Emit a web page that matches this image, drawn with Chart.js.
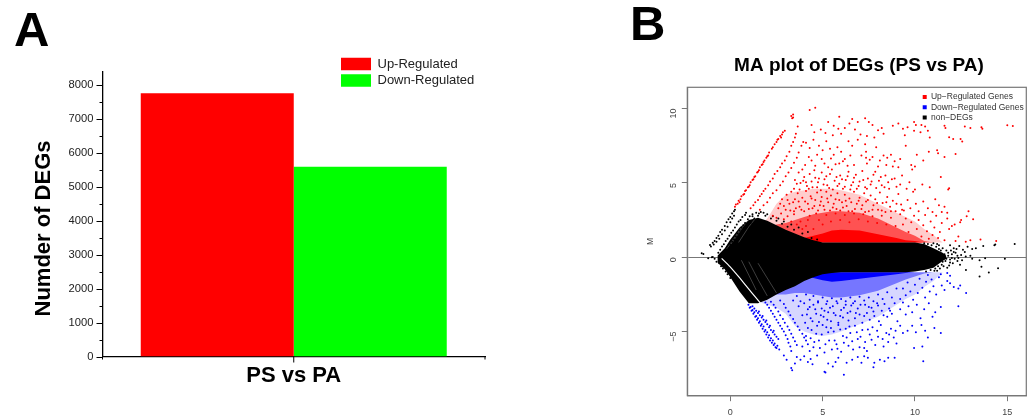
<!DOCTYPE html>
<html>
<head>
<meta charset="utf-8">
<script src="https://cdn.jsdelivr.net/npm/chart.js@4"></script>
<style>
  html, body { margin: 0; padding: 0; background: #fff; overflow: hidden; }
  body { width: 1034px; height: 419px; position: relative; font-family: "Liberation Sans", Arial, sans-serif; }
  canvas { position: absolute; top: 0; filter: blur(0.4px); }
  #barChart { left: 0; }
  #maChart { left: 620px; }
  .panel { position: absolute; font-weight: bold; font-size: 49px; line-height: 1; color: #000; }
</style>
</head>
<body>
<div class="panel" style="left:14px;top:4.5px">A</div>
<div class="panel" style="left:630px;top:-1.5px">B</div>
<canvas id="barChart" width="520" height="419"></canvas>
<canvas id="maChart" width="414" height="419"></canvas>
<script>
// panel A
const comparisons = ['PS vs PA'];
const upCounts = [7760];
const downCounts = [5590];
const countTicks = [0, 500, 1000, 1500, 2000, 2500, 3000, 3500, 4000, 4500, 5000, 5500, 6000, 6500, 7000, 7500, 8000];

// panel B, dense parts of the cloud read as upper/lower limits per A value
const bandA =        [-0.7, -0.3,  0,    0.5,  1,    1.5,  2,    2.5,  3,    3.5,  4,    4.5,  5,    5.5,  6,    7,    8,    9,    9.5,  10,   10.5, 11,   11.5, 11.7];
const blackTop =     [0.1,  0.6,   1.2,  2,    2.5,  2.65, 2.45, 2.15, 1.85, 1.6,  1.35, 1.15, 1,    1,    1,    1,    1,    1,    1,    1,    0.9,  0.6,  0.3,  0.1];
const blackBottom =  [-0.35,-0.8,  -1.35,-2.3, -3.1, -3.1, -2.85,-2.5, -2.2, -1.95,-1.6, -1.35,-1.15,-1.05,-1,   -1,   -1,   -1,   -1,   -0.96,-0.85,-0.7, -0.25,-0.1];
const redSolidTop =  [1,    1,     1,    1,    1,    1,    1,    1,    1,    1,    1.3,  1.45, 1.6,  1.8,  1.85, 1.8,  1.55, 1.3,  1.15, 1.1,  1,    1,    1,    1];
const redMidTop =    [1,    1,     1,    1,    1,    1,    2,    2.2,  2.3,  2.5,  2.7,  2.9,  3,    3.1,  3.1,  3,    2.6,  2,    1.7,  1.45, 1.1,  1,    1,    1];
const redLightTop =  [1,    1,     1,    1,    1,    2,    2.6,  3.6,  4.2,  4.4,  4.5,  4.6,  4.6,  4.6,  4.5,  4.2,  3.6,  3,    2.7,  2.4,  1.9,  1.5,  1,    1];
const blueSolidTop = [-1,   -1,    -1,   -1,   -1,   -1,   -1,   -1,   -1,   -1,   -1.2, -1.4, -1.55,-1.65,-1.6, -1.45,-1.3, -1.15,-1.05,-1,   -1,   -1,   -1,   -1];
const blueMidTop =   [-1,   -1,    -1,   -1,   -1,   -1,   -2,   -2.5, -2.5, -2.4, -2.4, -2.5, -2.6, -2.7, -2.7, -2.55,-2.25,-1.75,-1.5, -1.3, -1.1, -1,   -1,   -1];
const blueLightTop = [-1,   -1,    -1,   -1,   -1,   -3,   -3.2, -3.4, -3.8, -4.6, -5,   -5.2, -5.3, -5.2, -5,   -4.5, -4,   -3.2, -2.8, -2.5, -2,   -1.6, -1,   -1];
const gapA = [-0.47, -0.02, 0.52, 0.97, 1.34, 1.79];
const gapM = [-0.07, -0.63, -1.41, -2.09, -2.65, -3.32];
// thin white streaks inside the black wedge
const streaks = [
  { a: [0.05, 0.6, 1.2], m: [0.9, 1.9, 2.9] },
  { a: [0.45, 1, 1.55], m: [1, 2.05, 2.9] },
  { a: [-0.2, 0.3, 0.8], m: [0.55, 1.45, 2.4] },
  { a: [1, 1.5, 2], m: [-0.3, -1.5, -2.6] },
  { a: [1.5, 2, 2.5], m: [-0.4, -1.4, -2.4] },
  { a: [0.6, 1, 1.4], m: [-0.2, -1.2, -2.2] }
];

// A,M pairs
const upGenes = [
  // edge streaks
  .25,3.4, .3,3.55, .4,3.6, .45,3.8, .55,3.9, .6,4.1, .7,4.2, .8,4.45, .85,4.5, .95,4.7, 1.05,4.85, 1.1,5.05, 1.2,5.2, 1.3,5.4, 1.35,5.45, 1.45,5.7,
  1.55,5.85, 1.6,6.05, 1.7,6.2, 1.8,6.4, 1.85,6.5, 1.95,6.7, 2.05,6.85, 2.1,7.05, 2.25,7.3, 2.4,7.6, 2.5,7.75, 2.6,7.95, 2.7,8.15, 2.8,8.25, 2.85,8.4, 2.95,8.5,
  .5,3.7, .75,4.25, 1,4.75, 1.25,5.25, 1.5,5.75, 1.75,6.25, 2,6.8, 2.3,7.4, 2.55,7.9, 2.75,8.05,
  1.1,3.3, 1.25,3.5, 1.35,3.7, 1.5,3.85, 1.6,4.1, 1.7,4.25, 1.8,4.45, 1.9,4.6, 2.05,4.85, 2.15,5.1, 2.3,5.3, 2.4,5.6, 2.55,5.8, 2.7,6.05, 2.8,6.3, 2.95,6.5, 3.05,6.8, 3.2,7.1, 3.3,7.5, 3.4,7.75, 3.5,8.05, 3.55,8.3,
  1.6,3.2, 1.8,3.5, 2,3.7, 2.15,4, 2.3,4.3, 2.5,4.5, 2.7,4.85, 2.85,5.1, 3,5.45, 3.15,5.7, 3.3,6, 3.45,6.35, 3.6,6.7, 3.7,7.05, 3.85,7.5, 3.95,7.75,
  // M above 8
  3.3,9.5, 3.4,9.4, 3.4,9.6, 3.35,9.35, 3.65,8.8, 4.3,9.9, 4.6,10.05, 5.3,9.1, 5.9,9.45, 5.6,8.85, 6.2,8.7, 6.45,9, 6.6,9.3, 6.9,9.1, 6.75,8.6, 7.3,9.35, 7.5,9.1, 7.7,8.9, 8,8.55, 8.2,8.7, 8.3,8.3,
  8.8,8.85, 9.1,9, 9.35,8.65, 9.6,8.75, 9.95,9.1, 10.05,8.9, 10.3,8.4, 10.55,8.8, 10.7,8.5, 10.35,8.9, 4.4,8.9, 4.55,8.4, 4.9,8.6, 5.15,8.35, 5.55,8.2, 5.85,8.65, 6,8.3, 7.05,8.25, 7.4,8.15, 7.8,8.05, 9.45,8.2, 9.95,8.5, 10.8,8.05,
  15,8.88, 15.3,8.83, 13.6,8.75, 13.65,8.65, 12.7,8.8, 13,8.7, 11.6,8.85, 11.65,8.7, 11.85,8.07, 12.07,7.96, 12.47,7.96, 12.56,7.78,
  // M 6 to 8
  4.1,7.7, 4.3,7.35, 4.5,7.9, 4.8,7.5, 5,7.2, 5.2,7.8, 5.4,7.3, 5.6,6.9, 5.8,7.4, 6,7.1, 6.2,6.6, 6.4,7.8, 6.6,7.5, 6.7,6.2, 6.9,7.9, 7.1,6.85, 7.3,7.6, 7.35,7.1, 7.35,6.7, 7.4,6.3, 7.55,6.55, 7.7,6.75, 7.9,7.4, 8,6.1,
  8.3,6.85, 8.5,6.7, 8.7,6.9, 8.9,6.45, 9.2,6.6, 9.5,7.5, 9.8,6.2, 10,6.1, 10.1,6.9, 10.45,6.5, 10.75,7.1, 11.2,7.2, 11.25,7, 11.6,6.75, 12.2,6.95, 4.4,6.5, 4.7,6.9, 5.1,6.3, 5.45,6.65, 5.9,6.3, 6.35,6.15, 9.1,6.05,
  4.05,6.2, 4.25,6.75, 4.6,6.15, 4.95,6.6, 5.3,6.05, 5.7,6.25, 6.1,6.45, 6.5,6.85, 8.1,6.5, 8.45,6.2, 8.8,6.1,
  // M 4.5 to 6
  3.5,5.2, 3.7,5.7, 3.8,5, 3.9,5.9, 4,5.4, 4.15,4.8, 4.3,5.6, 4.4,5.1, 4.55,5.85, 4.7,4.7, 4.8,5.3, 4.95,5.7, 5.05,4.9, 5.2,5.45, 5.35,4.65, 5.5,5.9, 5.65,5.15, 5.8,4.8, 5.95,5.5, 6.1,4.6, 6.25,5.2, 6.4,5.75,
  6.55,4.85, 6.7,5.35, 6.85,4.6, 7,5.1, 7.15,5.8, 7.3,4.7, 7.45,5.3, 7.6,4.9, 7.75,5.55, 7.9,4.65, 8.05,5.15, 8.2,4.85, 8.4,5.5, 8.6,4.6, 8.75,5.25, 9,4.75, 9.2,4.9, 9.55,4.6, 9.85,5.9, 10,4.55, 10.4,4.9, 10.8,4.7, 11.4,5.4, 11.85,4.64, 11.8,4.55,
  3.45,4.6, 3.6,4.95, 3.75,4.55, 3.95,5.15, 4.1,5.05, 4.25,4.6, 4.45,4.7, 4.6,5.35, 4.75,5.05, 4.9,4.5, 5.1,5.25, 5.25,4.85, 5.4,5.6, 5.55,4.55, 5.75,5.4, 5.9,4.95, 6.05,5.25, 6.2,4.75, 6.35,5.45, 6.5,4.55, 6.65,5.05, 6.8,5.55, 6.95,4.8, 7.2,5.2, 7.4,4.6, 7.65,5.1, 7.85,5.75, 8.15,5.4, 8.35,4.7, 8.55,5.05, 8.9,5.3, 9.3,5.5, 9.7,5.05,
  // M 3 to 4.5
  2.6,3.3, 2.8,3.9, 3,3.2, 3.05,4.2, 3.2,3.6, 3.3,4.4, 3.45,3.1, 3.5,3.9, 3.65,4.3, 3.75,3.4, 3.9,4, 4,3.1, 4.1,4.45, 4.2,3.6, 4.35,4.1, 4.45,3.3, 4.6,3.85, 4.7,4.35, 4.85,3.5, 4.95,4.05, 5.1,3.2, 5.2,4.4, 5.3,3.7,
  5.45,4.15, 5.55,3.35, 5.7,3.9, 5.8,4.3, 5.95,3.15, 6.05,3.7, 6.2,4.2, 6.3,3.45, 6.45,3.95, 6.6,3.1, 6.7,4.4, 6.85,3.6, 7,4, 7.1,3.25, 7.25,4.3, 7.35,3.75, 7.5,3.1, 7.6,4.15, 7.75,3.5, 7.85,3.9, 8,3.2, 8.1,4.35,
  8.25,3.65, 8.4,3.05, 8.5,4.05, 8.65,3.4, 8.8,3.8, 8.95,3.1, 9.1,4.25, 9.25,3.55, 9.4,3.15, 9.6,3.85, 9.75,3.3, 9.9,4.4, 10.05,3.6, 10.2,3.1, 10.45,3.75, 10.7,3.3, 10.95,3.05, 11.1,3.9, 11.3,3.5, 11.45,3.05, 11.6,3.4, 11.75,3,
  2.7,3.6, 2.9,3.45, 3.1,3.85, 3.25,3.15, 3.4,3.7, 3.55,3.3, 3.7,3.75, 3.85,3.2, 4.05,3.75, 4.25,3.25, 4.4,3.95, 4.55,3.45, 4.75,3.15, 4.9,3.75, 5.05,3.45, 5.25,3.95, 5.4,3.15, 5.6,3.6, 5.75,3.25, 5.9,3.85, 6.1,3.35, 6.25,3.8, 6.4,3.1, 6.55,3.7, 6.75,3.25, 6.95,3.8, 7.15,3.5, 7.3,3.05, 7.45,3.85, 7.7,3.2, 7.95,3.65, 8.2,3.15, 8.45,3.7, 8.7,3.1, 9,3.6, 9.3,3.2,
  // M 1 to 3
  2.3,2.8, 2.5,2.65, 2.75,2.95, 2.9,2.55, 3.1,2.75, 3.3,2.4, 3.45,2.9, 3.6,2.2, 3.8,2.4, 4.1,2.1, 4.3,2.8, 4.5,1.9, 4.8,2.5, 3.9,1.9, 4.2,2.5, 4.65,2.95, 5,2.2, 5.2,2.85, 5.45,2.4, 5.7,2.95, 5.95,2.5, 6.2,2.85, 6.45,2.35, 6.7,2.95, 6.95,2.55, 7.2,2.9, 7.45,2.4, 7.7,2.75, 7.95,2.3, 8.2,2.8, 8.45,2.2, 8.7,2.65, 8.95,2.1,
  9.2,2.9, 9.35,2.2, 9.5,2.6, 9.65,1.7, 9.8,2.35, 9.95,2.8, 10.1,1.9, 10.2,2.5, 10.35,1.4, 10.45,2.15, 10.55,2.85, 10.65,1.75, 10.75,1.25, 10.85,2.4, 10.95,1.5,
  11.05,2, 11.15,2.8, 11.25,1.3, 11.35,1.7, 11.45,2.3, 11.6,1.15, 11.75,2.6, 11.85,1.9, 12,2.1, 12.15,2.2, 12.2,1.1, 12.35,1.4, 12.45,2.35, 12.5,2.5, 12.8,2.75, 12.9,3.1, 13.15,2.55, 13.55,1.2, 14.4,1.1, 13,1.15, 12.75,1.05
];
const downGenes = [
  // edge wedge and streaks
  .98,-3.2, 1.05,-3.4, 1.1,-3.35, 1.15,-3.6, 1.2,-3.55, 1.25,-3.8, 1.3,-3.7, 1.35,-4, 1.4,-3.95, 1.45,-4.2, 1.5,-4.1, 1.55,-4.4, 1.6,-4.3, 1.65,-4.6, 1.7,-4.5, 1.75,-4.8, 1.8,-4.65, 1.85,-5, 1.9,-4.9, 1.95,-5.2,
  2,-5.05, 2.05,-5.4, 2.1,-5.25, 2.15,-5.6, 2.2,-5.45, 2.25,-5.75, 2.3,-5.6, 2.35,-5.9, 2.4,-5.8, 2.45,-6.05, 2.5,-6.1, 2.55,-5.95, 2.65,-6.2, 1.2,-3.3, 1.4,-3.6, 1.6,-3.9, 1.8,-4.2, 2,-4.5, 2.2,-4.9, 2.4,-5.2, 2.6,-5.5,
  1.3,-3.45, 1.5,-3.75, 1.7,-4.05, 1.9,-4.35, 2.1,-4.7, 2.3,-5.05, 2.5,-5.35, 1.55,-3.65, 1.75,-3.95, 1.95,-4.25, 2.15,-4.6, 2.35,-4.95,
  1.9,-3.05, 2.1,-3.4, 2.3,-3.8, 2.5,-4.2, 2.7,-4.6, 2.9,-5, 3.1,-5.5, 3.25,-6, 3.3,-6.3, 2.2,-3, 2.45,-3.4, 2.7,-3.9, 2.95,-4.4, 3.2,-4.9, 3.4,-5.4, 3.6,-5.9, 2.7,-2.9, 3,-3.4, 3.25,-3.9, 3.5,-4.4, 3.75,-4.9, 4,-5.4, 4.2,-5.85,
  2,-3.2, 2.2,-3.6, 2.4,-4, 2.6,-4.4, 2.8,-4.8, 3,-5.25, 3.15,-5.75, 2.35,-3.2, 2.6,-3.65, 2.85,-4.15, 3.1,-4.65, 3.3,-5.15, 3.5,-5.65, 2.9,-3.15, 3.15,-3.65, 3.4,-4.15, 3.65,-4.65, 3.9,-5.15, 4.1,-5.6,
  // bottom
  3.35,-7.6, 3.3,-7.45, 3.5,-7.15, 2.9,-6.6, 3.05,-6.9, 3.6,-6.7, 3.8,-6.9, 4,-6.65, 4.2,-7.05, 4.35,-6.85, 4.45,-7.2, 4.7,-6.6, 5.15,-7.75, 5.1,-7.7, 5.3,-7.15, 5.55,-7.35, 5.7,-7.05, 5.85,-6.75, 6.15,-7.9, 6.3,-7.1, 6.6,-6.9, 6.9,-6.7, 7.1,-7.1, 7.25,-6.65, 7.45,-6.75, 7.75,-7.4, 7.8,-7.1, 8.1,-6.9, 8.35,-7, 8.55,-6.75, 8.9,-6.75, 10.45,-7, 9.95,-6.1, 10.4,-6, 11.4,-5.1, 10.7,-5.4,
  // M -6.5 to -4.5
  3.9,-6, 4.1,-5.3, 4.3,-6.3, 4.4,-4.9, 4.55,-5.7, 4.7,-4.6, 4.85,-6.1, 4.95,-5.2, 5.1,-6.4, 5.2,-4.7, 5.35,-5.6, 5.5,-6.2, 5.6,-5, 5.75,-5.85, 5.85,-4.55, 6,-6.35, 6.1,-5.3, 6.25,-4.8, 6.4,-5.95, 6.5,-5.1, 6.65,-6.2, 6.75,-4.6, 6.9,-5.5, 7,-6.05, 7.15,-4.9, 7.3,-5.7, 7.4,-6.3, 7.55,-5.2, 7.7,-4.7, 7.85,-5.9, 8,-5.35, 8.15,-4.55, 8.3,-6, 8.45,-5.1, 8.55,-5.7, 8.7,-4.8, 8.85,-5.4, 9,-5.8, 9.2,-4.6, 9.35,-5.1, 9.6,-4.95, 9.85,-4.6, 10.05,-5.05, 10.35,-4.55, 10.55,-4.95, 11.05,-4.75,
  4.2,-4.75, 4.35,-5.45, 4.5,-6.05, 4.65,-5.15, 4.8,-5.6, 5,-4.55, 5.15,-5.85, 5.3,-5.05, 5.45,-4.75, 5.65,-5.6, 5.8,-6.15, 5.95,-4.85, 6.15,-5.75, 6.3,-5.4, 6.45,-4.65, 6.6,-5.65, 6.85,-5.05, 7.05,-5.35, 7.25,-6.1, 7.45,-4.85, 7.65,-5.55, 7.95,-4.95, 8.25,-5.5, 8.6,-5.2, 8.95,-4.95,
  // M -4.5 to -3
  3.7,-3.3, 3.9,-3.9, 4.05,-4.4, 4.2,-3.5, 4.35,-4.1, 4.5,-3.2, 4.65,-3.8, 4.8,-4.35, 4.95,-3.45, 5.05,-4, 5.2,-3.15, 5.3,-3.7, 5.45,-4.3, 5.55,-3.3, 5.7,-3.9, 5.85,-4.4, 6,-3.55, 6.1,-4.05, 6.25,-3.2, 6.4,-4.25, 6.5,-3.65, 6.65,-3.1, 6.75,-4.1, 6.9,-3.45, 7,-3.85, 7.15,-4.4, 7.3,-3.2, 7.4,-3.75, 7.55,-4.2, 7.65,-3.4, 7.8,-3.95, 7.95,-3.1, 8.05,-4.3, 8.2,-3.6, 8.35,-3.15, 8.5,-4, 8.6,-3.45, 8.75,-3.8, 8.9,-3.1, 9.05,-4.3, 9.2,-3.5, 9.35,-3.05, 9.5,-3.85, 9.65,-3.3, 9.85,-3.7, 10.1,-3.2, 10.3,-4.1, 10.5,-3.5, 10.75,-3.1, 10.95,-4, 11.1,-3.7, 11.4,-3.35,
  4,-3.1, 4.15,-3.85, 4.3,-3.35, 4.45,-4.3, 4.6,-3.5, 4.75,-3.05, 4.9,-3.9, 5.1,-3.6, 5.25,-4.2, 5.4,-3.4, 5.6,-3.75, 5.8,-3.1, 5.95,-3.95, 6.15,-3.4, 6.35,-3.75, 6.55,-3.25, 6.8,-3.75, 7.05,-3.2, 7.25,-3.95, 7.5,-3.35, 7.75,-3.65, 8,-3.25, 8.3,-3.9, 8.65,-3.6,
  // M -3 to -1
  3.4,-2.9, 3.6,-2.6, 3.8,-2.95, 4.1,-2.5, 4.3,-2.85, 4.5,-2.6, 4.75,-2.95, 5,-2.7, 5.25,-2.95, 5.5,-2.75, 5.75,-2.95, 6,-2.8, 6.25,-2.95, 6.5,-2.7, 6.75,-2.95, 7,-2.65, 7.25,-2.9, 7.5,-2.7, 7.75,-2.95, 8,-2.5, 8.25,-2.8, 8.5,-2.35, 8.75,-2.7, 9,-2.1,
  9.2,-2.8, 9.35,-2.1, 9.5,-2.55, 9.6,-1.7, 9.75,-2.3, 9.9,-2.85, 10,-1.85, 10.15,-2.4, 10.25,-1.45, 10.4,-2.05, 10.55,-2.7, 10.6,-1.65, 10.7,-1.2, 10.8,-2.3, 10.9,-1.5, 11,-1.95, 11.15,-2.5, 11.3,-1.35, 11.45,-1.9, 11.6,-2.2, 11.75,-1.6, 11.9,-1.75, 12.1,-2, 12.35,-2.1, 12.45,-1.9, 12.77,-2.4, 12.35,-3.3, 11.9,-1.25, 11.4,-1.15, 11.75,-1.05
];
const otherGenes = [
  // left streaks
  -1.55,.27, -1.46,.22, -1.2,-.07, -1,0, -.95,.02, -1.1,.83, -1.05,.72, -.95,.98, -.85,1.1, -.75,1.3, -.65,1.45, -.55,1.7, -.45,1.85, -.3,2.1, -.2,2.35, -.1,2.55, 0,2.7, .1,2.95, .2,3.1, .25,3.2,
  -.9,.85, -.75,1.05, -.6,1.25, -.45,1.55, -.3,1.8, -.15,2.05, 0,2.35, .1,2.6, .2,2.8,
  -.65,.31, -.55,.5, -.45,.72, -.35,.88, -.25,1.1, -.15,1.25, -.05,1.45, .05,1.65, .15,1.8, .25,2, .35,2.2, .45,2.4, .55,2.5, .65,2.7, .8,2.85, .85,3,
  -.4,.05, -.3,.25, -.2,.4, -.1,.6, 0,.85, .1,1.05, .2,1.2, .3,1.4, .4,1.6, .5,1.8, .6,2, .7,2.15, .8,2.3, .95,2.55, 1.05,2.75, 1.2,2.9, 1.4,3,
  .9,2.05, 1.1,2.3, 1.3,2.6, 1.5,2.8, 1.65,3.05, 1.8,3, 2,2.9, 2.3,2.75, 2.6,2.6, 2.9,2.4, 3.3,2.2, 3.7,2, 4.2,1.7, 1.2,2.75, 1.55,2.95, 1.9,2.8, 2.2,2.6, 2.5,2.45, 2.8,2.25, 3.1,2.05, 3.45,1.85, 3.9,1.6, 4.4,1.3, 4.7,1.2,
  -.85,-.1, -.75,-.3, -.6,-.4, -.5,-.6, -.4,-.75, -.25,-.95, -.15,-1.15, 0,-1.4,
  // right side
  15.4,.9, 14.35,.85, 14.3,.8, 13.7,.75, 13.3,.6, 13.1,.55, 12.85,.7, 12.7,.35, 12.4,.75, 12.1,.6, 12,.2, 11.9,.8, 12.2,.3, 12.5,.15, 13,.1, 13.1,-.1, 13.5,-.2, 12.3,-.25, 12.05,-.4, 11.85,-.55, 11.9,-.15, 11.7,.45, 11.75,-.7, 11.5,.6, 11.55,-.6, 11.3,.8, 11.35,-.75, 11.2,.9, 11.2,-.9, 11,.95, 11.05,-.9,
  14.87,-.1, 13.8,-.07, 13.6,-.63, 14,-1.03, 14.5,-.74, 13.5,-1.3, 12.76,-.85, 12.44,-.5, 12.6,.5, 12.3,.1, 12.15,-.1, 11.95,.45, 11.8,.1, 11.65,-.25, 10.5,.95, 10.7,.9, 10.9,.8, 10.6,-.95, 10.85,-.85,
  11.6,.2, 11.7,-.1, 11.8,.3, 11.9,-.35, 12,-.05, 12.1,.35, 11.5,-.3, 11.4,.45, 11.45,-.5, 11.3,.55, 11.25,-.6, 11.15,.7, 11.1,-.75, 12.25,.55, 12.35,-.05, 12.55,-.2, 12.75,.05
];

const toPoints = flat => {
  const out = [];
  for (let i = 0; i < flat.length; i += 2) out.push({ x: flat[i], y: flat[i + 1] });
  return out;
};
const toBand = (xs, ys) => xs.map((x, i) => ({ x, y: ys[i] }));

const font = '"Liberation Sans", Arial, sans-serif';
Chart.defaults.font.family = font;
Chart.defaults.animation = false;

// legend and title cannot be placed freely by options, so move them once layout is done
const placeBarLegend = {
  id: 'placeBarLegend',
  afterLayout(chart) {
    const l = chart.legend;
    l.left = 337.4; l.right = l.left + l.width;
    l.top = 53.85; l.bottom = l.top + l.height;
  }
};
const barDecor = {
  id: 'barDecor',
  afterDraw(chart) {
    const { ctx, chartArea, scales } = chart;
    ctx.save();
    ctx.strokeStyle = '#000';
    ctx.lineWidth = 1;
    scales.y.ticks.forEach(t => {
      const y = Math.round(scales.y.getPixelForValue(t.value)) + 0.5;
      const len = t.value % 1000 === 0 ? 6 : 3;
      ctx.beginPath(); ctx.moveTo(chartArea.left - len, y); ctx.lineTo(chartArea.left, y); ctx.stroke();
    });
    [[chartArea.left, 3], [(chartArea.left + chartArea.right) / 2, 6], [chartArea.right, 3]].forEach(([x, len]) => {
      ctx.beginPath(); ctx.moveTo(x, chartArea.bottom); ctx.lineTo(x, chartArea.bottom + len); ctx.stroke();
    });
    // y title sits lower than the axis centre in the original
    ctx.translate(44, 228.5);
    ctx.rotate(-Math.PI / 2);
    ctx.fillStyle = '#000';
    ctx.font = 'bold 22px ' + font;
    ctx.textAlign = 'center';
    ctx.textBaseline = 'middle';
    ctx.fillText('Numder of DEGs', 0, 0);
    ctx.restore();
  }
};

new Chart(document.getElementById('barChart'), {
  type: 'bar',
  data: {
    labels: comparisons,
    datasets: [
      { label: 'Up-Regulated', data: upCounts, backgroundColor: '#ff0000', categoryPercentage: 0.8, barPercentage: 1 },
      { label: 'Down-Regulated', data: downCounts, backgroundColor: '#00ff00', categoryPercentage: 0.8, barPercentage: 1 }
    ]
  },
  options: {
    responsive: false,
    layout: { padding: { top: 72, right: 35 } },
    plugins: {
      tooltip: { enabled: false },
      legend: {
        position: 'chartArea',
        align: 'start',
        labels: { boxWidth: 30, boxHeight: 12.5, padding: 3.6, color: '#222', font: { size: 13 } }
      }
    },
    scales: {
      x: {
        afterFit: s => { s.height = 62.5; },
        grid: { display: false, tickLength: 0 },
        border: { color: '#000', width: 1.3 },
        ticks: { color: '#000', padding: 6.6, font: { size: 22, weight: 'bold' } }
      },
      y: {
        min: 0,
        max: 8385,
        afterFit: s => { s.width = 102.5; },
        afterBuildTicks: s => { s.ticks = countTicks.map(value => ({ value })); },
        grid: { display: false, tickLength: 0 },
        border: { color: '#000', width: 1.3 },
        ticks: {
          autoSkip: false,
          padding: 9,
          color: '#222',
          font: { size: 11.2 },
          callback: v => (v % 1000 === 0 ? String(v) : '')
        }
      }
    }
  },
  plugins: [placeBarLegend, barDecor]
});

const placeMaLegend = {
  id: 'placeMaLegend',
  afterLayout(chart) {
    const l = chart.legend;
    l.left = 301; l.right = l.left + l.width;
    l.top = 91.15; l.bottom = l.top + l.height;
    const t = chart.titleBlock;
    t.left = 89; t.right = 389;
  }
};
const maBox = {
  id: 'maBox',
  afterDatasetsDraw(chart) {
    const { ctx, chartArea: a } = chart;
    ctx.save();
    ctx.strokeStyle = '#777';
    ctx.lineWidth = 1.2;
    ctx.strokeRect(a.left, a.top, a.right - a.left, a.bottom - a.top);
    ctx.restore();
  }
};

const band = (ys, fill, color) => ({
  type: 'line', data: toBand(bandA, ys), pointRadius: 0, borderWidth: 0, tension: 0, fill, backgroundColor: color
});
const dots = (label, flat, color) => ({
  type: 'scatter', label, data: toPoints(flat), backgroundColor: color, pointRadius: 1, pointBorderWidth: 0
});
const whiteStreak = s => ({
  type: 'line', data: toBand(s.a, s.m), pointRadius: 0, borderWidth: 0.7, borderColor: 'rgba(255,255,255,0.35)', tension: 0, fill: false
});

new Chart(document.getElementById('maChart'), {
  type: 'scatter',
  data: {
    datasets: [
      dots('Up\u2212Regulated Genes', upGenes, '#ff0000'),
      dots('Down\u2212Regulated Genes', downGenes, '#0000ff'),
      dots('non\u2212DEGs', otherGenes, '#000000'),
      { type: 'line', data: toBand(gapA, gapM), pointRadius: 0, borderWidth: 1.2, borderColor: '#fff', tension: 0.2, fill: false },
      ...streaks.map(whiteStreak),
      band(blackTop, '+1', '#000000'),
      band(blackBottom, false, '#000000'),
      band(redSolidTop, { value: 1 }, '#ff0000'),
      band(blueSolidTop, { value: -1 }, '#0000ff'),
      band(redMidTop, { value: 1 }, 'rgba(255,0,0,0.6)'),
      band(blueMidTop, { value: -1 }, 'rgba(0,0,255,0.45)'),
      band(redLightTop, { value: 1 }, 'rgba(255,0,0,0.2)'),
      band(blueLightTop, { value: -1 }, 'rgba(0,0,255,0.16)')
    ]
  },
  options: {
    responsive: false,
    layout: { padding: { top: 50, right: 7.7 } },
    plugins: {
      tooltip: { enabled: false },
      title: {
        display: true,
        text: 'MA plot of DEGs (PS vs PA)',
        color: '#000',
        font: { size: 19, weight: 'bold' },
        padding: { top: 4.6, bottom: 9.9 }
      },
      legend: {
        position: 'chartArea',
        align: 'start',
        labels: {
          boxWidth: 4, boxHeight: 4, padding: 1.7, color: '#333', font: { size: 8.5 },
          filter: item => item.text
        }
      }
    },
    scales: {
      x: {
        type: 'linear',
        min: -2.33,
        max: 16.03,
        afterFit: s => { s.height = 23.3; },
        grid: { drawOnChartArea: false, tickLength: 5.5, tickColor: '#777' },
        border: { color: '#777', width: 1.2 },
        ticks: { stepSize: 5, includeBounds: false, padding: 6, color: '#444', font: { size: 9 }, maxRotation: 0 }
      },
      y: {
        min: -9.31,
        max: 11.43,
        afterFit: s => { s.width = 67.3; },
        grid: {
          color: c => (c.tick && c.tick.value === 0 ? '#777' : 'rgba(0,0,0,0)'),
          tickLength: 5.5,
          tickColor: '#777'
        },
        border: { color: '#777', width: 1.2 },
        title: { display: true, text: 'M', color: '#444', font: { size: 8.5 }, padding: { top: 26, bottom: 0 } },
        ticks: {
          stepSize: 5,
          includeBounds: false,
          minRotation: 90,
          maxRotation: 90,
          padding: 8,
          color: '#444',
          font: { size: 9 },
          callback: v => String(v).replace('-', '\u2212')
        }
      }
    }
  },
  plugins: [placeMaLegend, maBox]
});
</script>
</body>
</html>
